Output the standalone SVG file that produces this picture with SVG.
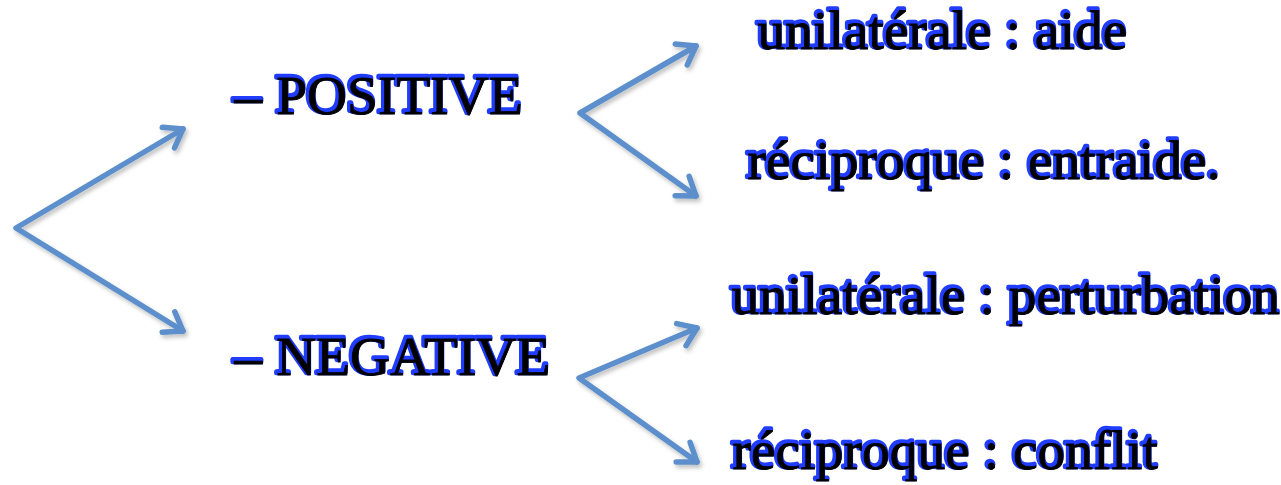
<svg xmlns="http://www.w3.org/2000/svg" width="1281" height="485" viewBox="0 0 1281 485">
<style>
.lbl{font-family:"Liberation Serif","Times New Roman",serif;font-size:55.5px}
.b{fill:#1f3cff;stroke:#1f3cff;stroke-width:4.5;stroke-linejoin:round}
.k{fill:#000;stroke:#000;stroke-width:0.8}
.c{fill:none;stroke:#5b8fcb;stroke-width:5.5;stroke-linecap:round;stroke-linejoin:round}
</style>
<defs>
<marker id="ah" markerUnits="userSpaceOnUse" markerWidth="40" markerHeight="40" refX="20" refY="20" orient="auto-start-reverse" overflow="visible">
<polyline points="3,8 20,20 3,32" fill="none" stroke="#5b8fcb" stroke-width="5.5" stroke-linecap="round" stroke-linejoin="round"/>
</marker>
<filter id="sh" x="-10%" y="-10%" width="120%" height="130%">
<feDropShadow dx="2" dy="3" stdDeviation="2" flood-color="#000" flood-opacity="0.25"/>
</filter>
</defs>
<rect width="1281" height="485" fill="#fff"/>
<g id="connectors" filter="url(#sh)">
<polyline class="c" points="183,129 16,228 183,331" marker-start="url(#ah)" marker-end="url(#ah)"/>
<polyline class="c" points="696,46 580,113 696,196" marker-start="url(#ah)" marker-end="url(#ah)"/>
<polyline class="c" points="697,328 579,378 697,462" marker-start="url(#ah)" marker-end="url(#ah)"/>
</g>
<g id="positive">
<text class="lbl b" x="233" y="112">– POSITIVE</text>
<text class="lbl k" x="234.5" y="113.5">– POSITIVE</text>
</g>
<g id="negative">
<text class="lbl b" x="233" y="373">– NEGATIVE</text>
<text class="lbl k" x="234.5" y="374.5">– NEGATIVE</text>
</g>
<g id="pos-unilaterale">
<text class="lbl b" x="756" y="47">unilatérale : aide</text>
<text class="lbl k" x="757.5" y="48.5">unilatérale : aide</text>
</g>
<g id="pos-reciproque">
<text class="lbl b" x="746" y="177">réciproque : entraide.</text>
<text class="lbl k" x="747.5" y="178.5">réciproque : entraide.</text>
</g>
<g id="neg-unilaterale">
<text class="lbl b" x="730" y="312">unilatérale : perturbation</text>
<text class="lbl k" x="731.5" y="313.5">unilatérale : perturbation</text>
</g>
<g id="neg-reciproque">
<text class="lbl b" x="731" y="467">réciproque : conflit</text>
<text class="lbl k" x="732.5" y="468.5">réciproque : conflit</text>
</g>
</svg>
